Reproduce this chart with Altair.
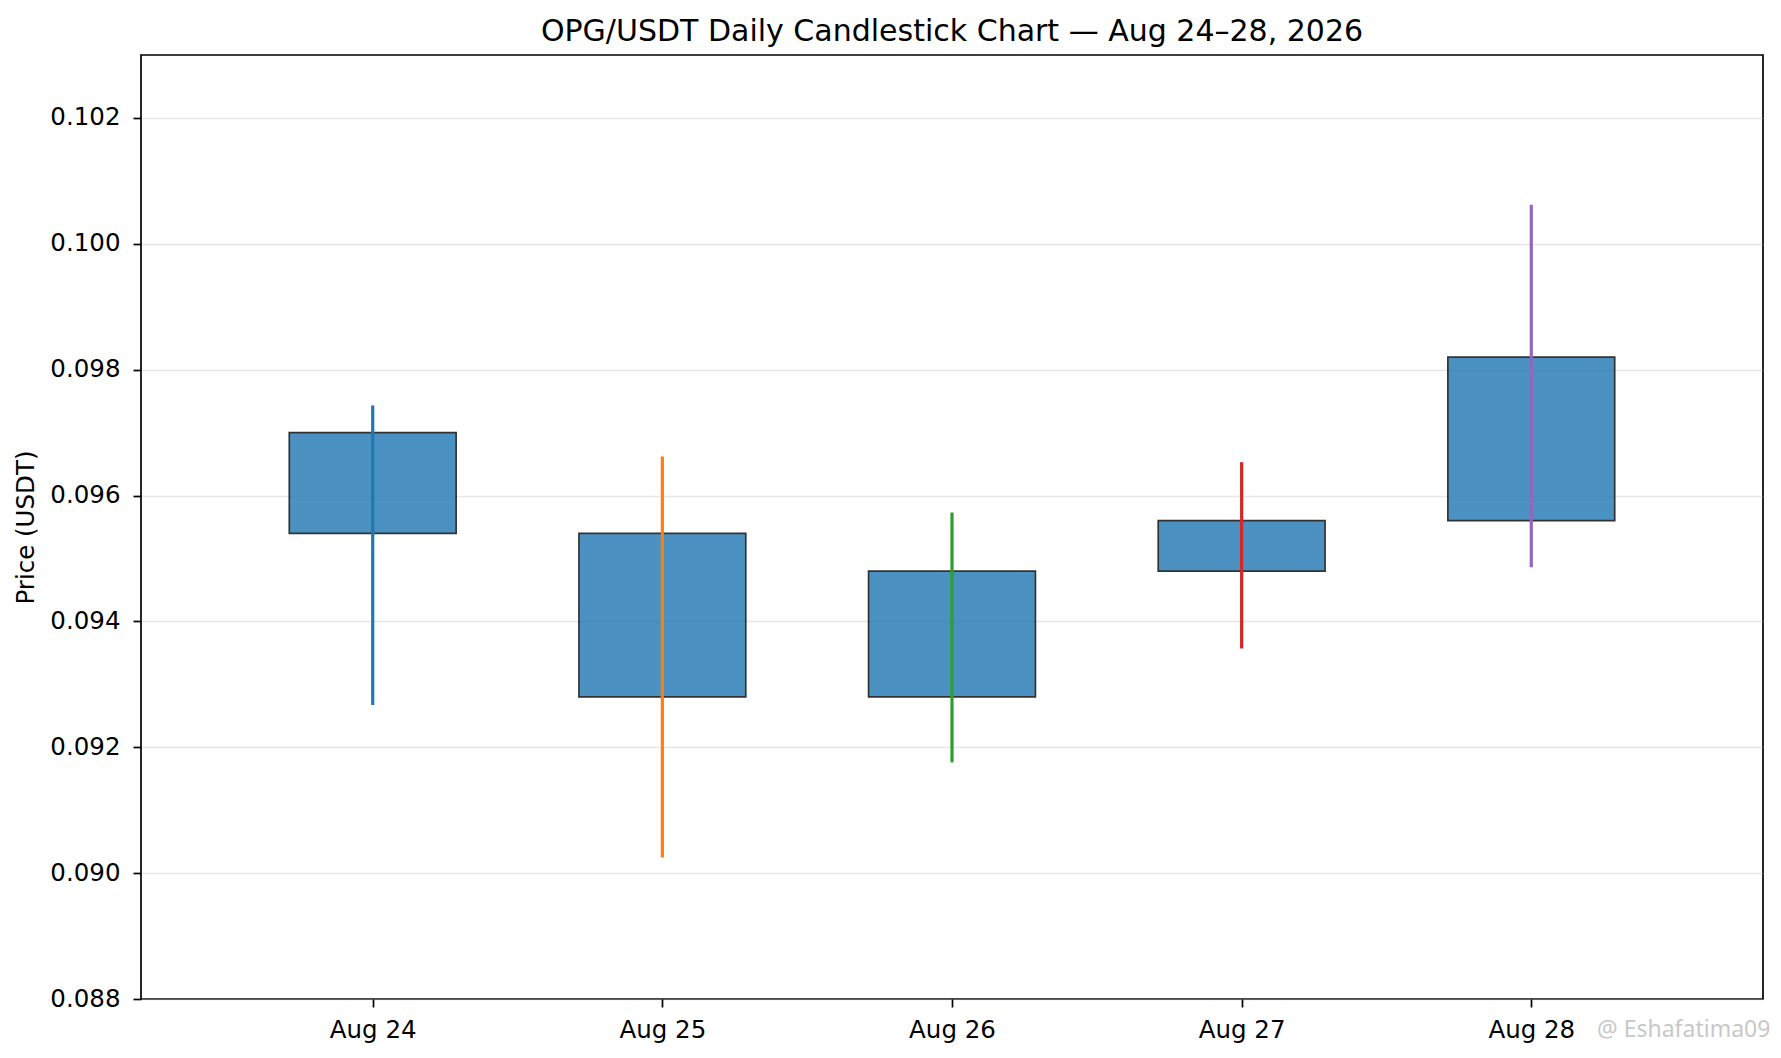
import altair as alt
import pandas as pd

# ---- data ----
day_labels = ["Aug 24", "Aug 25", "Aug 26", "Aug 27", "Aug 28"]
opens = [0.0970, 0.0954, 0.0928, 0.0948, 0.0956]
closes = [0.0954, 0.0928, 0.0948, 0.0956, 0.0982]
highs = [0.09743, 0.09662, 0.09573, 0.09653, 0.10062]
lows = [0.09267, 0.09025, 0.09176, 0.09357, 0.09486]
wick_colors = ["#1f77b4", "#ff7f0e", "#2ca02c", "#d62728", "#9467bd"]
y_ticks = [0.088, 0.090, 0.092, 0.094, 0.096, 0.098, 0.100, 0.102]

HALF = 0.288  # half body width in days

df = pd.DataFrame({
    "idx": list(range(len(day_labels))),
    "day": day_labels,
    "open": opens,
    "close": closes,
    "high": highs,
    "low": lows,
})
df["body_lo"] = df[["open", "close"]].min(axis=1)
df["body_hi"] = df[["open", "close"]].max(axis=1)
df["x0"] = df["idx"] - HALF
df["x1"] = df["idx"] + HALF

FONT = "DejaVu Sans"
PLOT_W = 1622
PLOT_H = 944
LABEL_SIZE = 24.5
TITLE_SIZE = 30

xscale = alt.Scale(domain=[-0.8, 4.8], nice=False, zero=False)
yscale = alt.Scale(domain=[0.088, 0.103], nice=False, zero=False)

label_expr = "[" + ",".join("'%s'" % d for d in day_labels) + "][datum.value]"

x_axis = alt.Axis(
    values=list(range(len(day_labels))),
    labelExpr=label_expr,
    title=None,
    grid=False,
    labelBaseline="alphabetic",
    labelPadding=30,
)
y_axis = alt.Axis(
    values=y_ticks,
    format=".3f",
    title="Price (USDT)",
    grid=True,
    labelPadding=13,
    titleAngle=-90,
    titleX=-108,
    titleY=PLOT_H / 2,
    titleAlign="center",
    titleBaseline="alphabetic",
)

bodies = alt.Chart(df).mark_rect(
    fill="#1f77b4", stroke="black", strokeWidth=1.7, opacity=0.8
).encode(
    x=alt.X("x0:Q", scale=xscale, axis=x_axis),
    x2="x1:Q",
    y=alt.Y("body_lo:Q", scale=yscale, axis=y_axis),
    y2="body_hi:Q",
)

wicks = alt.Chart(df).mark_rule(strokeWidth=3.2).encode(
    x=alt.X("idx:Q", scale=xscale),
    y=alt.Y("low:Q", scale=yscale),
    y2="high:Q",
    color=alt.Color("day:N", scale=alt.Scale(domain=day_labels, range=wick_colors), legend=None),
)

watermark = alt.Chart(pd.DataFrame({"t": ["@ Eshafatima09"]})).mark_text(
    align="left", baseline="alphabetic", font="Noto Sans", fontSize=23, color="#c8c8c8"
).encode(
    x=alt.value(1456),
    y=alt.value(982),
    text="t:N",
)

chart = alt.layer(bodies, wicks, watermark).properties(
    width=PLOT_W,
    height=PLOT_H,
    background="white",
    title=alt.TitleParams(
        "OPG/USDT Daily Candlestick Chart \u2014 Aug 24\u201328, 2026",
        font=FONT,
        fontSize=TITLE_SIZE,
        fontWeight="normal",
        color="black",
        anchor="middle",
        baseline="bottom",
        offset=8,
        dy=30,
    ),
    padding={"left": 133, "top": 47, "right": 8, "bottom": 48},
    autosize=alt.AutoSizeParams(type="none"),
).configure_view(
    stroke="black", strokeWidth=1.7
).configure_axis(
    domain=False,
    labelFont=FONT,
    labelFontSize=LABEL_SIZE,
    labelColor="black",
    titleFont=FONT,
    titleFontSize=LABEL_SIZE,
    titleFontWeight="normal",
    titleColor="black",
    tickColor="black",
    tickWidth=1.7,
    tickSize=8,
    gridColor="#b0b0b0",
    gridOpacity=0.3,
    gridWidth=1.6,
)

chart.save("out.html", embed_options={"renderer": "svg", "actions": False})
